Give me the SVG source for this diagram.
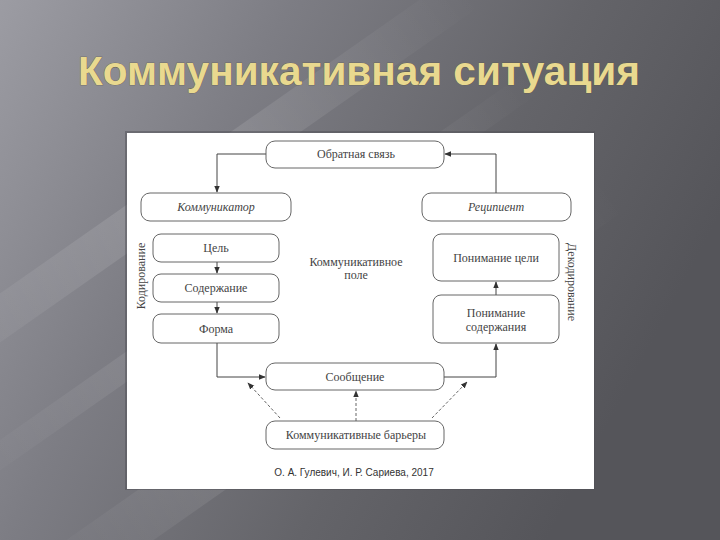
<svg xmlns="http://www.w3.org/2000/svg" width="720" height="540" viewBox="0 0 720 540">
<defs>
<linearGradient id="bg" x1="0" y1="0" x2="1" y2="0.4">
<stop offset="0" stop-color="#9c9ca3"/>
<stop offset="0.35" stop-color="#7d7d84"/>
<stop offset="0.7" stop-color="#646469"/>
<stop offset="1" stop-color="#55555a"/>
</linearGradient>
<linearGradient id="streak" x1="0" y1="0" x2="1" y2="0">
<stop offset="0" stop-color="#ffffff" stop-opacity="0"/>
<stop offset="0.5" stop-color="#ffffff" stop-opacity="0.14"/>
<stop offset="1" stop-color="#ffffff" stop-opacity="0"/>
</linearGradient>
<marker id="ah" viewBox="0 0 10 10" refX="9" refY="5" markerWidth="7" markerHeight="7" orient="auto" markerUnits="userSpaceOnUse">
<path d="M0,1 L10,5 L0,9 z" fill="#333"/>
</marker>
<style>
.box{fill:#fff;stroke:#555;stroke-width:0.9}
.t{font-family:"Liberation Serif","DejaVu Serif",serif;font-size:12px;fill:#444;text-anchor:middle}
.it{font-style:italic}
.ln{fill:none;stroke:#444;stroke-width:1}
.dl{fill:none;stroke:#666;stroke-width:1;stroke-dasharray:3,2}
.title{font-family:"Liberation Sans",Arial,sans-serif;font-weight:bold;font-size:40px;fill:#e9d98f;stroke:#5a5540;stroke-width:0.6;paint-order:stroke}
</style>
</defs>
<rect width="720" height="540" fill="url(#bg)"/>
<g transform="rotate(-35 200 300)">
<rect x="-100" y="180" width="700" height="40" fill="url(#streak)"/>
<rect x="-100" y="300" width="700" height="25" fill="url(#streak)"/>
<rect x="-100" y="420" width="700" height="50" fill="url(#streak)"/>
</g>
<text class="title" x="78" y="85" textLength="562" lengthAdjust="spacingAndGlyphs">Коммуникативная ситуация</text>
<rect x="125" y="131" width="470" height="359" fill="#505055" opacity="0.5"/>
<rect x="127" y="133" width="467" height="356" fill="#fff"/>

<g id="connectors">
<path class="ln" d="M266,154 H217 V192" marker-end="url(#ah)"/>
<path class="ln" d="M496,193 V154 H445" marker-end="url(#ah)"/>
<path class="ln" d="M217,262 V273" marker-end="url(#ah)"/>
<path class="ln" d="M217,302 V313" marker-end="url(#ah)"/>
<path class="ln" d="M217,343 V377 H265" marker-end="url(#ah)"/>
<path class="ln" d="M444,377 H496 V344" marker-end="url(#ah)"/>
<path class="ln" d="M496,295 V282" marker-end="url(#ah)"/>
<path class="dl" d="M356,421 V391" marker-end="url(#ah)"/>
<path class="dl" d="M280,418 L248,383" marker-end="url(#ah)"/>
<path class="dl" d="M432,418 L467,382" marker-end="url(#ah)"/>
</g>

<g id="feedback"><rect class="box" x="266" y="141" width="178" height="27" rx="9"/><text class="t" x="356" y="158">Обратная связь</text></g>
<g id="communicator"><rect class="box" x="141" y="193" width="150" height="28" rx="9"/><text class="t it" x="216" y="211">Коммуникатор</text></g>
<g id="recipient"><rect class="box" x="422" y="193" width="149" height="28" rx="9"/><text class="t it" x="496" y="211">Реципиент</text></g>
<g id="goal"><rect class="box" x="153" y="234" width="126" height="28" rx="8"/><text class="t" x="216" y="252">Цель</text></g>
<g id="content"><rect class="box" x="153" y="274" width="126" height="28" rx="8"/><text class="t" x="216" y="292">Содержание</text></g>
<g id="form"><rect class="box" x="153" y="314" width="126" height="29" rx="8"/><text class="t" x="216" y="333">Форма</text></g>
<g id="goal-understanding"><rect class="box" x="433" y="234" width="126" height="47" rx="8"/><text class="t" x="496" y="262">Понимание цели</text></g>
<g id="content-understanding"><rect class="box" x="433" y="295" width="126" height="48" rx="8"/><text class="t" x="496" y="317">Понимание</text><text class="t" x="496" y="331">содержания</text></g>
<g id="message"><rect class="box" x="266" y="363" width="178" height="27" rx="9"/><text class="t" x="355" y="381">Сообщение</text></g>
<g id="barriers"><rect class="box" x="266" y="421" width="178" height="28" rx="9"/><text class="t" x="356" y="439">Коммуникативные барьеры</text></g>
<g id="field"><text class="t" x="356" y="266">Коммуникативное</text><text class="t" x="356" y="279">поле</text></g>
<g id="coding"><text class="t" transform="translate(145 276) rotate(-90)">Кодирование</text></g>
<g id="decoding"><text class="t" transform="translate(568 282) rotate(90)">Декодирование</text></g>
<text x="354" y="476" font-family="'Liberation Sans',Arial,sans-serif" font-size="10" fill="#333" text-anchor="middle">О. А. Гулевич, И. Р. Сариева, 2017</text>
</svg>
